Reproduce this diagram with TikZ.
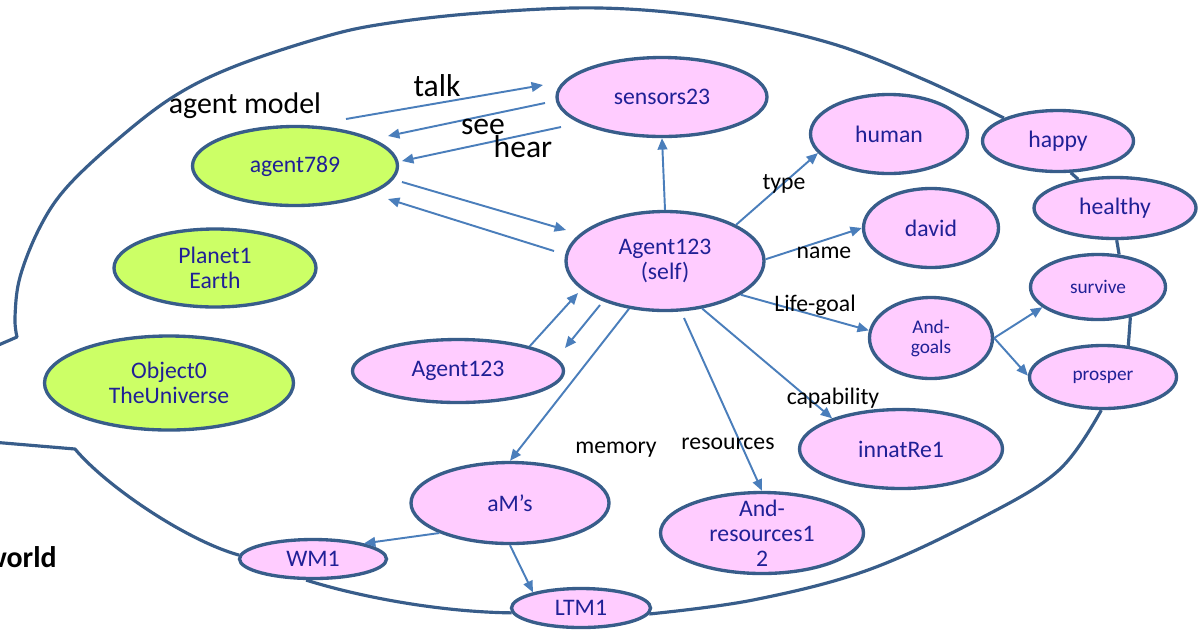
\documentclass[tikz,border=0pt]{standalone}
\usepackage{fontspec}
\setmainfont{Carlito}
\usetikzlibrary{shapes.geometric,arrows.meta}
\definecolor{edgeblue}{RGB}{56,93,138}
\definecolor{arrowblue}{RGB}{74,126,187}
\definecolor{pinkfill}{RGB}{255,204,255}
\definecolor{greenfill}{RGB}{204,255,102}
\definecolor{nodetext}{RGB}{32,32,150}
\begin{document}
\begin{tikzpicture}[x=0.02cm,y=-0.02cm,
  bubble/.style={ellipse, draw=edgeblue, line width=1.9pt, inner sep=0pt,
    align=center, text=nodetext, font=\fontsize{13.5}{14.2}\selectfont},
  pinkbub/.style={bubble, fill=pinkfill},
  greenbub/.style={bubble, fill=greenfill},
  esize/.style 2 args={minimum width=#1*0.02cm, minimum height=#2*0.02cm},
  smalltext/.style={font=\fontsize{11}{11.4}\selectfont},
  rel/.style={-{Triangle[length=6.5pt,width=5.5pt]}, draw=arrowblue, line width=1.1pt},
  edgelabel/.style={anchor=base, inner sep=0pt, text=black, font=\fontsize{13.5}{16}\selectfont},
  biglabel/.style={anchor=base, inner sep=0pt, text=black, font=\fontsize{18}{20}\selectfont},
  rim/.style={draw=edgeblue, line width=1.8pt, line join=round}
]
\useasboundingbox (0,0) rectangle (1202,630);
\fill[white] (0,0) rectangle (1202,630);

% world objects
\node[greenbub, esize={205}{79}] (agent789) at (295,166) {agent789};
\node[greenbub, esize={202}{78}] (planet) at (215,268) {Planet1\\Earth};
\node[greenbub, esize={249}{94}] (universe) at (169,383) {Object0\\TheUniverse};

% the self agent and its attributes
\node[pinkbub, esize={210}{79}] (sensors23) at (662,97) {sensors23};
\node[pinkbub, esize={198}{99}] (self) at (665,261) {Agent123\\(self)};
\node[pinkbub, esize={211}{63}] (other) at (458,371) {Agent123};
\node[pinkbub, esize={198}{81}] (aM) at (510,503) {aM’s};
\node[pinkbub, esize={147}{39}] (WM1) at (313,559) {WM1};
\node[pinkbub, esize={139}{39}] (LTM1) at (581,608) {LTM1};
\node[pinkbub, esize={203}{81}, inner ysep=-8pt] (resources) at (762,533) {And-\\resources1\\2};
\node[pinkbub, esize={203}{79}] (innate) at (901,449) {innatRe1};
\node[pinkbub, esize={157}{79}] (human) at (889,134) {human};
\node[pinkbub, esize={135}{79}] (david) at (931,228) {david};
\node[pinkbub, smalltext, esize={123}{81}] (goals) at (931,338) {And-\\goals};
\node[pinkbub, esize={151}{61}] (happy) at (1058,141) {happy};
\node[pinkbub, esize={162}{61}] (healthy) at (1115,208) {healthy};
\node[pinkbub, smalltext, esize={135}{65}] (survive) at (1098,287) {survive};
\node[pinkbub, smalltext, esize={147}{63}] (prosper) at (1103,377) {prosper};

% outline of the world
\draw[rim] plot[smooth, tension=0.6] coordinates {(happy.157) (925,80) (830,43) (715,18)
  (600,8) (480,13) (383,24) (320,38) (233,67) (173,97) (117,140) (67,187) (40,227)
  (20,277) (15,317) (17,337)} -- (-20,353);
\draw[rim] (-20,441) -- (75,449) .. controls (105,485) and (185,540) .. (WM1.177);
\draw[rim] (WM1.252) .. controls (360,597) and (440,612) .. (LTM1.184);
\draw[rim] plot[smooth, tension=0.6] coordinates {(LTM1.355) (753,600) (868,570) (983,517)
  (1059,470) (prosper.267)};
\draw[rim] (prosper.51) -- (survive.317);
\draw[rim] (survive.57) -- (healthy.273);
\draw[rim] (healthy.142) -- (happy.292);

% free ends of the perception and modelling links
\coordinate (talkA) at (346,119);
\coordinate (talkB) at (543,85);
\coordinate (seeA) at (545,103);
\coordinate (seeB) at (388,136);
\coordinate (hearA) at (561,127);
\coordinate (hearB) at (402,161);
\coordinate (modelA) at (402,182);
\coordinate (modelB) at (566,230);
\coordinate (backA) at (554,251);
\coordinate (backB) at (388,199);
\coordinate (selfIn) at (578,293);
\coordinate (selfOutA) at (600,305);
\coordinate (selfOutB) at (565,348);
\coordinate (resA) at (684,318);

\draw[rel] (talkA) -- (talkB);
\draw[rel] (seeA) -- (seeB);
\draw[rel] (hearA) -- (hearB);
\draw[rel] (modelA) -- (modelB);
\draw[rel] (backA) -- (backB);
\draw[rel] (self.north) -- (sensors23.south);
\draw[rel] (self.27) -- (human.195);
\draw[rel] (self.1) -- (david.west);
\draw[rel] (self.-24) -- (goals.173);
\draw[rel] (self.-52) -- (innate.156);
\draw[rel] (resA) -- (resources.north);
\draw[rel] (self.233) -- (aM.north);
\draw[rel] (other.19) -- (selfIn);
\draw[rel] (selfOutA) -- (selfOutB);
\draw[rel] (aM.203) -- (WM1.17);
\draw[rel] (aM.south) -- (LTM1.162);
\draw[rel] (goals.east) -- (survive.200);
\draw[rel] (goals.east) -- (prosper.179);

% labels
\node[biglabel, font=\fontsize{17}{20}\selectfont] (lmodel) at (245,113) {agent model};
\node[biglabel] (ltalk) at (437,96) {talk};
\node[biglabel] (lsee) at (483,134) {see};
\node[biglabel] (lhear) at (523,157) {hear};
\node[edgelabel] (ltype) at (784,189) {type};
\node[edgelabel] (lname) at (824,258) {name};
\node[edgelabel] (lgoal) at (815,311) {Life-goal};
\node[edgelabel] (lcap) at (833,404) {capability};
\node[edgelabel] (lres) at (728,449) {resources};
\node[edgelabel] (lmem) at (616,453) {memory};
\node[anchor=base east, inner sep=0pt, font=\fontsize{17}{20}\selectfont\bfseries] (lworld) at (57,567) {world};
\end{tikzpicture}
\end{document}
